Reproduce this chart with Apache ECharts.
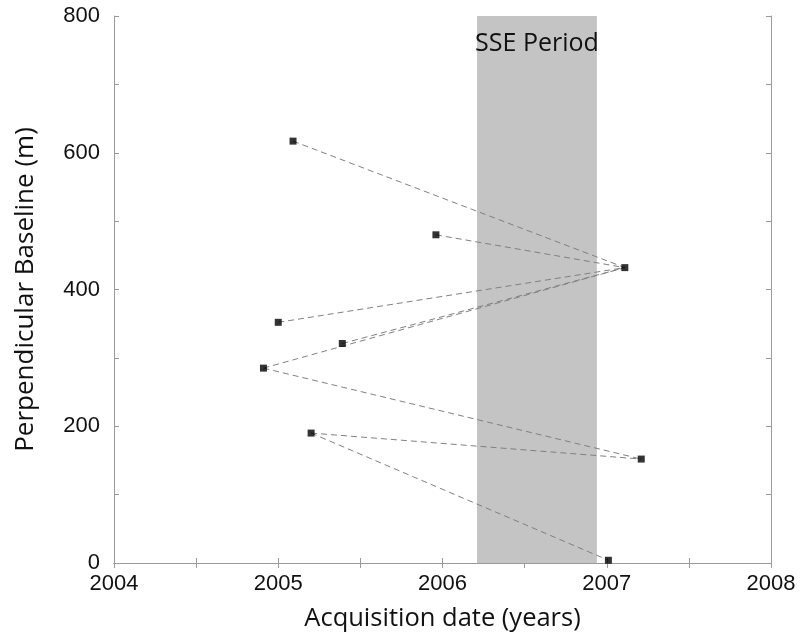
<!DOCTYPE html>
<html>
<head>
<meta charset="utf-8">
<script src="https://cdn.jsdelivr.net/npm/echarts@6/dist/echarts.min.js"></script>
<style>html,body{margin:0;padding:0;background:#fff}#c{width:800px;height:640px}</style>
</head>
<body>
<div id="c"></div>
<script>
// Acquisition dates (decimal years) and perpendicular baselines (m)
const dates = [2005.09, 2005.96, 2007.11, 2005.00, 2005.39, 2004.91, 2005.20, 2007.21, 2007.01];
const baselines = [617, 480, 432, 352, 321, 285, 190, 152, 4];
// Interferometric pairs (indices into the arrays above)
const pairs = [[0,2],[1,2],[3,2],[4,2],[5,2],[5,7],[6,7],[6,8]];
// SSE period band
const ssePeriod = [2006.21, 2006.94];
const sseLabel = 'SSE Period';
const xTicks = [2004, 2005, 2006, 2007, 2008];
const yTicks = [0, 200, 400, 600, 800];

const axisColor = '#9a9a9a';
const series = [];
series.push({
  type: 'scatter', data: [], z: 1, silent: true,
  markArea: {
    silent: true,
    itemStyle: {color: '#c4c4c4'},
    label: {show: true, position: 'insideTop', distance: 15, color: '#111',
      fontFamily: 'Open Sans', fontSize: 25},
    data: [[{xAxis: ssePeriod[0], name: sseLabel}, {xAxis: ssePeriod[1]}]]
  }
});
pairs.forEach(p => {
  series.push({
    type: 'line', z: 2, symbol: 'none', silent: true,
    lineStyle: {color: '#808080', width: 1, type: [6, 4]},
    data: p.map(i => [dates[i], baselines[i]])
  });
});
series.push({
  type: 'scatter', z: 3, symbol: 'rect', symbolSize: 7,
  itemStyle: {color: '#000'},
  data: dates.map((d, i) => [d, baselines[i]])
});

const chart = echarts.init(document.getElementById('c'), null, {renderer: 'canvas'});
chart.setOption({
  animation: false,
  grid: {left: 114, right: 29, top: 16, bottom: 77},
  xAxis: [{
    type: 'value', min: 2004, max: 2008, interval: 0.5,
    name: 'Acquisition date (years)', nameLocation: 'middle', nameGap: 43,
    nameTextStyle: {fontFamily: 'Open Sans', fontSize: 25.5, color: '#111'},
    axisLine: {lineStyle: {color: axisColor}},
    axisTick: {inside: true, length: 5, lineStyle: {color: axisColor}},
    splitLine: {show: false},
    axisLabel: {fontFamily: 'Liberation Sans', fontSize: 22, color: '#111', margin: 10,
      formatter: v => xTicks.includes(v) ? String(v) : ''}
  }, {
    type: 'value', position: 'top', min: 2004, max: 2008, interval: 0.5,
    axisLine: {show: true, lineStyle: {color: axisColor}},
    axisTick: {inside: true, length: 5, lineStyle: {color: axisColor}},
    axisLabel: {show: false}, splitLine: {show: false}
  }],
  yAxis: [{
    type: 'value', min: 0, max: 800, interval: 100,
    name: 'Perpendicular Baseline (m)', nameLocation: 'middle', nameGap: 75,
    nameTextStyle: {fontFamily: 'Open Sans', fontSize: 26, color: '#111'},
    axisLine: {show: true, lineStyle: {color: axisColor}},
    axisTick: {show: true, inside: true, length: 5, lineStyle: {color: axisColor}},
    splitLine: {show: false},
    axisLabel: {fontFamily: 'Liberation Sans', fontSize: 22, color: '#111', margin: 14,
      formatter: v => yTicks.includes(v) ? String(v) : ''}
  }, {
    type: 'value', position: 'right', min: 0, max: 800, interval: 100,
    axisLine: {show: true, lineStyle: {color: axisColor}},
    axisTick: {show: true, inside: true, length: 5, lineStyle: {color: axisColor}},
    axisLabel: {show: false}, splitLine: {show: false}
  }],
  series: series
});
</script>
</body>
</html>
